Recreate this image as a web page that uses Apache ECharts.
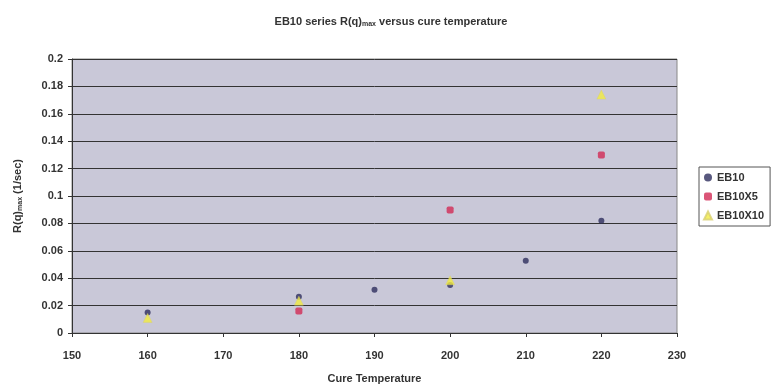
<!DOCTYPE html>
<html><head><meta charset="utf-8">
<script src="https://cdn.jsdelivr.net/npm/echarts@6/dist/echarts.min.js"></script>
<style>html,body{margin:0;padding:0;background:#fff}#c{width:773px;height:391px}</style>
</head><body><div id="c"></div>
<script>
const temps = [160, 180, 190, 200, 210, 220];
const eb10 = [0.015, 0.0265, 0.0316, 0.035, 0.0528, 0.082];
const eb10x5 = [null, 0.016, null, 0.0898, null, 0.130];
const eb10x10 = [0.011, 0.0236, null, 0.0385, null, 0.174];
const xTicks = [150, 160, 170, 180, 190, 200, 210, 220, 230];
const yTicks = [0, 0.02, 0.04, 0.06, 0.08, 0.1, 0.12, 0.14, 0.16, 0.18, 0.2];

const pairs = arr => temps.map((t, i) => [t, arr[i]]).filter(p => p[1] !== null);
const font = 'Liberation Sans, Arial, sans-serif';
const chart = echarts.init(document.getElementById('c'));
chart.setOption({
  backgroundColor: '#fff',
  animation: false,
  title: {
    text: '{a|EB10 series R(q)}{s|max}{a| versus cure temperature}',
    left: 386, top: 10, textAlign: 'center',
    textStyle: {
      rich: {
        a: {fontFamily: font, fontSize: 11, fontWeight: 'bold', color: '#333'},
        s: {fontFamily: font, fontSize: 7, fontWeight: 'bold', color: '#333', verticalAlign: 'bottom', padding: [6, 0, 0, 0]}
      }
    }
  },
  legend: {
    orient: 'vertical', left: 699, top: 167,
    itemWidth: 8, itemHeight: 8, itemGap: 8,
    padding: [5, 6, 5, 4],
    borderColor: '#555', borderWidth: 1,
    textStyle: {fontFamily: font, fontSize: 11, fontWeight: 'bold', color: '#333'},
    data: ['EB10', 'EB10X5', 'EB10X10']
  },
  grid: {left: 72, right: 96, top: 59, bottom: 58, show: true, backgroundColor: '#c9c8d8', borderColor: '#888', borderWidth: 1},
  xAxis: {
    type: 'value', min: 150, max: 230, interval: 10,
    name: 'Cure Temperature', nameLocation: 'middle', nameGap: 40,
    nameTextStyle: {fontFamily: font, fontSize: 11, fontWeight: 'bold', color: '#333'},
    axisLine: {lineStyle: {color: '#333'}},
    axisTick: {show: true, length: 4, lineStyle: {color: '#333'}},
    axisLabel: {fontFamily: font, fontSize: 11, fontWeight: 'bold', color: '#333', margin: 17,
      formatter: v => xTicks.includes(v) ? String(v) : ''},
    splitLine: {show: false}
  },
  yAxis: {
    type: 'value', min: 0, max: 0.2, interval: 0.02,
    name: '{a|R(q)}{s|max}{a| (1/sec)}', nameLocation: 'middle', nameGap: 48, nameRotate: 90,
    nameTextStyle: {
      rich: {
        a: {fontFamily: font, fontSize: 11, fontWeight: 'bold', color: '#333'},
        s: {fontFamily: font, fontSize: 7, fontWeight: 'bold', color: '#333', verticalAlign: 'bottom', padding: [6, 0, 0, 0]}
      }
    },
    axisLine: {show: true, lineStyle: {color: '#333'}},
    axisTick: {show: true, length: 4, lineStyle: {color: '#333'}},
    axisLabel: {fontFamily: font, fontSize: 11, fontWeight: 'bold', color: '#333', margin: 9,
      formatter: v => { const t = yTicks.find(y => Math.abs(y - v) < 1e-9); return t === undefined ? '' : String(+t.toFixed(2)); }},
    splitLine: {show: true, lineStyle: {color: '#333', width: 1}}
  },
  series: [
    {name: 'EB10', type: 'scatter', symbol: 'circle', symbolSize: 6, itemStyle: {color: '#2e2e5e'}, data: pairs(eb10), z: 3},
    {name: 'EB10X5', type: 'scatter', symbol: 'roundRect', symbolSize: 7, itemStyle: {color: '#d22a55'}, data: pairs(eb10x5), z: 4},
    {name: 'EB10X10', type: 'scatter', symbol: 'triangle', symbolSize: 9, itemStyle: {color: '#f2ec40', borderColor: '#d8cf70', borderWidth: 0.5}, data: pairs(eb10x10), z: 5}
  ]
});
</script></body></html>
